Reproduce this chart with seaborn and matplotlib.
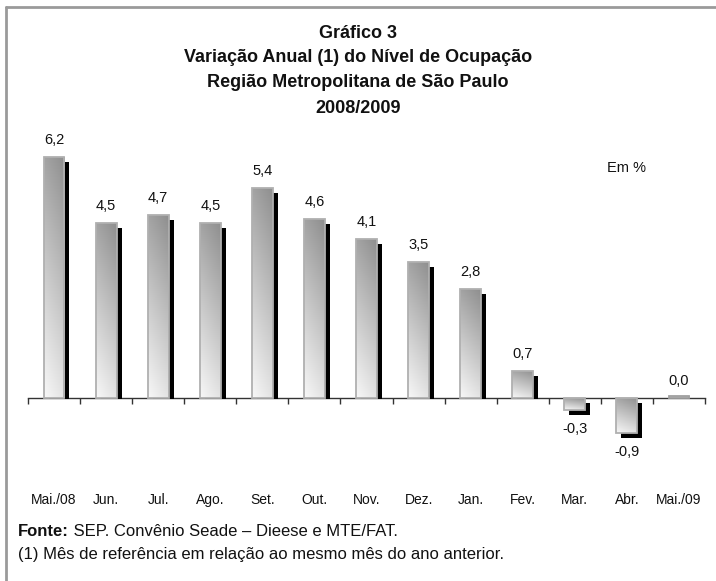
import numpy as np
import pandas as pd
import matplotlib
matplotlib.use("Agg")
import matplotlib.pyplot as plt
import matplotlib.transforms as mtransforms
from matplotlib.lines import Line2D
import seaborn as sns

months = ["Mai./08", "Jun.", "Jul.", "Ago.", "Set.", "Out.", "Nov.", "Dez.",
          "Jan.", "Fev.", "Mar.", "Abr.", "Mai./09"]
values = [6.2, 4.5, 4.7, 4.5, 5.4, 4.6, 4.1, 3.5, 2.8, 0.7, -0.3, -0.9, 0.0]
title_lines = ["Gráfico 3", "Variação Anual (1) do Nível de Ocupação",
               "Região Metropolitana de São Paulo", "2008/2009"]
unit_label = "Em %"
source_bold = "Fonte:"
source_text = " SEP. Convênio Seade – Dieese e MTE/FAT."
note_text = "(1) Mês de referência em relação ao mesmo mês do ano anterior."

df = pd.DataFrame({"mes": months, "valor": values})

sns.set_theme(style="white")
FONT = ["Liberation Sans", "DejaVu Sans"]
plt.rcParams["font.family"] = FONT

W, H = 716, 581
fig = plt.figure(figsize=(W / 100, H / 100), dpi=100)
fig.patch.set_facecolor("white")

zero_px = 398
px_per_unit = 38.9
ylo, yhi = -1.5, 6.8
ax_top_px = zero_px - yhi * px_per_unit
ax_bot_px = zero_px - ylo * px_per_unit
left_px, right_px = 28, 705
ax = fig.add_axes([left_px / W, 1 - ax_bot_px / H, (right_px - left_px) / W,
                   (ax_bot_px - ax_top_px) / H])
ax.set_facecolor("none")

bw = 0.4
# shadows
sns.barplot(data=df, x="mes", y="valor", order=months, color="black",
            width=bw, ax=ax, saturation=1, errorbar=None, zorder=2)
n_sh = len(ax.patches)
sns.barplot(data=df, x="mes", y="valor", order=months, color="white",
            width=bw, ax=ax, saturation=1, errorbar=None,
            edgecolor="#b0b0b0", linewidth=1.3, zorder=4)

dx_px, dy_px = 5, 5
shift = mtransforms.ScaledTranslation(dx_px / 100, -dy_px / 100, fig.dpi_scale_trans)
lift = (dy_px - 1) / px_per_unit  # keep shadow base only ~1px below the axis line
for p, v in zip(ax.patches[:n_sh], values):
    p.set_transform(ax.transData + shift)
    p.set_linewidth(0)
    if v > 0:
        p.set_y(lift)
        p.set_height(max(v - lift, 0))
    elif v == 0:
        p.set_visible(False)

# gradient fills
gy, gx = np.mgrid[0:1:64j, 0:1:32j]
t = 0.8 * gy + 0.2 * gx  # light bottom-left, dark top-right
light = np.array([0.97, 0.97, 0.97])
dark = np.array([0.56, 0.56, 0.56])
img = light[None, None, :] * (1 - t[..., None]) + dark[None, None, :] * t[..., None]
for p in ax.patches[n_sh:]:
    p.set_facecolor("none")
    x0 = p.get_x()
    w = p.get_width()
    y0 = min(p.get_y(), p.get_y() + p.get_height())
    y1 = max(p.get_y(), p.get_y() + p.get_height())
    if y1 - y0 < 1e-9:
        y1 = y0 + 0.06
        p.set_height(0.06)
        p.set_edgecolor("#a0a0a0")
    im = ax.imshow(img, extent=[x0, x0 + w, y0, y1], origin="lower",
                   aspect="auto", zorder=3, interpolation="bilinear")
    im.set_clip_path(p)

ax.set_xlim(-0.5, len(months) - 0.5)
ax.set_ylim(ylo, yhi)

# value labels
for i, v in enumerate(values):
    txt = f"{v:.1f}".replace(".", ",")
    off_px = 17 if v >= 0 else -19
    ax.annotate(txt, (i, v), xytext=(0, off_px * 0.72), textcoords="offset points",
                ha="center", va="center", fontsize=10.5, color="#111111")

# axis styling
for s in ["left", "right", "top"]:
    ax.spines[s].set_visible(False)
ax.spines["bottom"].set_position(("data", 0))
ax.spines["bottom"].set_color("#333333")
ax.spines["bottom"].set_linewidth(1.0)
ax.spines["bottom"].set_zorder(1)
ax.set_yticks([])
ax.set_xticks(range(len(months)))
ax.set_xticklabels(months, fontsize=10, color="#111111")
ax.set_xticks(np.arange(-0.5, len(months), 1.0), minor=True)
ax.tick_params(axis="x", which="major", length=0, pad=(493 - zero_px) * 0.72)
ax.tick_params(axis="x", which="minor", length=4, width=1.0, color="#333333",
               direction="out", bottom=True)
ax.set_xlabel("")
ax.set_ylabel("")

# unit label
fig.text(607 / W, 1 - 168 / H, unit_label, fontsize=10.5, ha="left", va="center",
         color="#111111")

# title
for k, (line, ypx) in enumerate(zip(title_lines, [33, 58, 83, 108])):
    fig.text(358 / W, 1 - ypx / H, line, ha="center", va="center",
             fontsize=13, fontweight="bold", color="#111111")

# footer
fy1, fy2 = 532, 554
fb = fig.text(18 / W, 1 - fy1 / H, source_bold, ha="left", va="center",
              fontsize=12, fontweight="bold", color="#111111")
fig.canvas.draw()
bb = fb.get_window_extent(renderer=fig.canvas.get_renderer())
fig.text(bb.x1 / W, 1 - fy1 / H, source_text, ha="left", va="center",
         fontsize=12, color="#111111")
fig.text(18 / W, 1 - fy2 / H, note_text, ha="left", va="center",
         fontsize=12, color="#111111")

# frame (left and top)
fig.add_artist(Line2D([6 / W, 6 / W], [0, 1 - 7 / H], transform=fig.transFigure,
                      color="#9a9a9a", linewidth=2))
fig.add_artist(Line2D([6 / W, 1], [1 - 7 / H, 1 - 7 / H], transform=fig.transFigure,
                      color="#9a9a9a", linewidth=2))

fig.savefig("out.png", dpi=100)
